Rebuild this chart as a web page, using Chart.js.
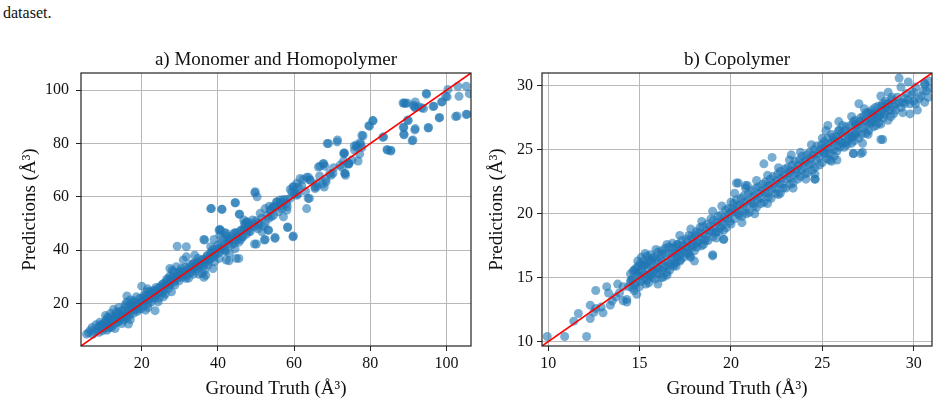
<!DOCTYPE html>
<html><head><meta charset="utf-8">
<script src="https://cdn.jsdelivr.net/npm/chart.js@4.4.1/dist/chart.umd.min.js"></script>
<style>
html,body{margin:0;padding:0;background:#fff;}
body{width:940px;height:408px;position:relative;overflow:hidden;}
#caption{position:absolute;left:3px;top:5px;font-family:'Liberation Serif',serif;font-size:16px;line-height:16px;color:#111;}
#c1{position:absolute;left:0;top:0;}
#c2{position:absolute;left:480px;top:0;}
</style></head><body>
<div id="caption">dataset.</div>
<canvas id="c1" width="480" height="408"></canvas>
<canvas id="c2" width="460" height="408"></canvas>
<script>
// ---------- data ----------
const panelTitles = ['a) Monomer and Homopolymer', 'b) Copolymer'];
const xLabel = 'Ground Truth (Å³)';
const yLabel = 'Predictions (Å³)';
const monomerRange = [4.05, 106.45];
const copolymerRange = [9.66, 31.0];
const monomerTicks = [20, 40, 60, 80, 100];
const copolymerTicks = [10, 15, 20, 25, 30];

// [ground truth, prediction]
const monomerPoints = [
[5.5,8.5],[7,11],[8.3,10],[9.3,11.5],[10,12.5],[10.7,13.8],[11.3,14.4],[12.2,15],[12.6,17.8],[13.7,16.3],
[14.3,16.9],[15,17.5],[16.1,22.8],[13.5,12.8],[14.8,12.5],[16.5,12.3],[15.2,13.8],[11.7,11.3],[13,10.6],[10.9,10],
[17.4,18.5],[18.7,20],[17.8,16.3],[17,21.3],[16.1,20.6],[20,26.5],[21.3,24.4],[22.2,23.1],[23,25],[23.5,17.3],
[21.7,20],[20.9,21.3],[24.8,26.3],[25.7,27.5],[26.5,29],[27.4,30.3],[28.3,31.9],[27,25.6],[27.8,24.4],[28.7,26.9],
[27.4,33.1],[29.1,33.8],[30.4,33.1],[29.3,41.5],[31.7,41.3],[30,30.6],[31.6,29.4],[32.6,31.3],[33.5,35],[34.8,36.9],
[33.9,38.1],[36.3,29.8],[37,37.5],[38,38.8],[38.7,40.3],[39.1,35.6],[40.4,36.9],[40.3,47.5],[41.3,44.4],[42.2,46.3],
[43,43.8],[43.5,41.9],[44.8,36.9],[42.2,36.3],[43,38.8],[38.7,33.1],[36.5,32.5],[37.4,34.4],[47,50],[49.1,51.3],
[49.6,42.3],[46.3,45],[35.2,34.4],[34.3,32.8],[30.9,36.3],[31.7,37.5],[25.7,22.5],[24.3,20.6],[23.5,21.9],
[6,9],[7.5,9.5],[8,12],[8.8,9.2],[9,13],[9.5,10.5],[10.2,11],[10.5,15.5],[11,12],[11.5,13],
[11.8,16.2],[12,11],[12.4,13.5],[12.8,14.8],[13.2,15.5],[13.8,14],[14,18.5],[14.5,15.2],[15,14.8],[15.5,16],
[15.8,18.8],[16,14.5],[16.4,17],[16.8,15.5],[17.2,19.5],[17.5,17.5],[18,21],[18.3,18],[18.8,17],[19.2,19.5],
[19.5,22],[19.8,18],[20.3,20.5],[20.6,23],[21,22],[21,17.5],[21.5,25.5],[21.8,21.5],[22.5,20.5],[22.8,24],
[23.2,22.8],[23.8,26],[24,23.5],[24.5,22],[25,25],[25.3,27],[25.5,24],[26,26.5],[26.2,23.5],[26.8,27.5],
[27,29.5],[27.5,27],[28,29],[28,32.5],[28.5,28],[29,30],[29.5,31.5],[29.8,28.5],[30.2,32],[30.6,29.8],
[31,31],[31.4,33.5],[32,32.5],[32.3,29.5],[32.8,34.5],[33.2,32],[33.8,33.5],[34.5,35.5],[35,31],[35.5,36],
[36,34],[36.8,36.5],[37.5,35.8],[38.2,37],[39.5,38.5],[40,42],[40.8,40],[41.5,41],[42,39.5],[42.8,42.5],
[44,44],[44.5,40.5],[45,46.5],[45.5,43],[46,47.5],[46.8,48],[47.5,46],[48,49.5],[48.5,47],
[6.5,10],[7.2,8.5],[8.5,11],[9.2,12],[9.8,9.8],[10.4,12.8],[11,14.8],[11.2,10.8],[11.9,13.5],[12.5,12],
[13,14],[13.4,16.8],[14,13.3],[14.6,16],[15.3,15],[15.6,19.5],[16.2,16],[16.6,18.5],[17,14],[17.6,20.5],
[18.2,19.2],[18.6,22.5],[19,17.8],[19.6,20.5],[20.2,22],[20.5,19],[21.2,23],[21.6,18.5],[22,24.5],[22.4,22],
[23,23.5],[23.6,24.8],[24.2,25.5],[24.6,24],[25.2,26],[25.8,25],[26.4,28],[27,27],[27.6,28.5],[28.2,30],
[28.8,29],[29.4,29.5],[30,31.5],[30.6,31],[31.2,32],[31.8,30.5],[32.4,33.5],[33,33],[33.6,31],[34.2,34.5],
[34.8,34],[35.4,35],[36,36.5],[36.6,35],[37.2,38],[37.8,36.5],[38.4,39.5],[39,37.5],[39.6,40.5],[40.2,39],
[41,42.5],[41.8,40],[42.5,44],[43.5,45],[44.2,42.5],[45.2,45],[46,44],[47,47.5],[48,48.2],[49,49],
[50,51],[50.5,48],[51.5,52],[52,49],[53,53],[54,52.5],[55,56],[56,56.8],[57,58],[58,59],
[59,59.5],[60,61],[61,61],[62,64],[63,62],
[68.7,80],[71.3,80.6],[73,76.3],[76.3,79.4],[75.9,77.5],[74.4,72.5],[73,73.5],[73.3,68.8],[67.7,72.5],[68.1,71.5],
[66.8,71.5],[69.4,68.8],[68.3,66.5],[67.5,64.8],[65.5,63.1],[64.2,66.3],[63.3,67.3],[61.6,66.9],[60.7,65],[59.8,63.8],
[59.4,61.9],[59,62.8],[63.7,59.4],[63.3,55.6],[65.9,63.8],[49.8,61.9],[50.3,60],[44.6,57.8],[38.3,55.6],[41.1,55.3],
[45.7,53.5],[46.8,51.3],[47.7,50.6],[49,50],[49.8,48.8],[50.7,49.4],[53.7,55],[54.6,56.3],[55.5,58.1],[56.3,58.8],
[57.2,59],[58.1,57.5],[53.3,47.5],[55,44.8],[52.2,43.8],[50.1,42.3],[58.3,48.5],[59.7,45],[45.5,36.9],[42.9,36],
[40.7,47.5],[42.3,45.3],[43.1,43.8],[41.6,41.9],[40.3,40.6],[36.5,43.8],[38.1,41.3],[39,38.8],[44.2,46.3],[45,43.8],
[46.3,47.5],[47.2,49.4],[48.1,46.9],[51.6,46.9],[52.4,50],[53.3,51.9],[54.6,53.1],[55.9,54.4],[56.8,55.6],[57.2,52.5],
[58.1,55],[35.9,31.3],[36.8,30.6],[34.6,33.8],[33.7,35],
[94.7,98.8],[96.7,94],[98.9,95.6],[100.2,97.5],[98.2,89.8],[102.8,90.3],[105.4,91],[95.3,86],[91.8,85.6],[91.2,81.3],
[88.8,83.5],[88.8,86],[89.2,95],[88.6,95.2],[91.8,95.6],[91.6,93.8],[94,93.1],[89.8,88.8],[83.5,82.5],[84.4,77.8],
[85.4,77.5],[79.8,86.5],[80.7,88.5],[77.8,83.1],[77.4,79.7],[75.2,73.8],[73.2,76.5],[73.4,68.8],[69,80],[71.4,81.3],
[74.3,72.5],[72.1,71.9],[70.2,68.8],[67.7,72.3],[66.4,71.2],[66.7,67.8],[63.8,67.3],[64.2,66.3],[68.4,65.6],[67.9,63.7],
[65.5,63.7],[66,65],[62.4,66.5],[61.1,63.7],[59.8,63.7],[60.3,61.9],[60.7,60.6],[64,59.4],[57,56.9],[58.2,56.3],
[56.3,57.5],[55.4,58.1],[54.5,56.3],[53.9,55],[53.5,56.5],[52.4,55.6],[51.1,53.8],[49.7,61.5],[44.5,57.8],[45.6,53.5],
[47.6,50.6],[50.6,50.2],[53.2,47.5],[55,44.4],[58.3,48.7],[59.8,45.3],[38.1,55.6],[41,55.3],[40.5,47.8],[41.8,46.5],
[40.5,45.6],[39,44],[36.3,44],[44.5,46.5],[46.6,45],[52.4,44],
[100.4,100.3],[103,101.5],[105.2,101.5],[106,98.7],[103.3,97.7],[99.8,97.7],[98.7,95.6],[94.8,98.5],[96.5,93.9],[92.6,93.9],
[88.9,95.2],[89.7,95.2],[91.3,94.4],[91.8,93.4],[93.5,93.4],[102.4,90.1],[105.2,90.9],[98.1,89.6],[95.2,85.8],[91.7,85.1],
[91,81],[88.7,86.1],[88.9,83.3],[90,88.6],[80.7,88.6],[79.6,86.7],[78.1,82.9],[83.3,82.3],[84.5,77.5],[85.4,77.2],
[77.4,80.4],[76.5,78.7],[75.8,79.1],[77.8,78.5],[73.2,76.2],[77.2,76],[76.8,73.4],[74.3,72.2],[72.6,71.1],[70.4,70.9],
[73.5,68.1],[69.7,68.1]
];

const copolymerPoints = [
[9.95,10.4],[10.9,10.4],[12.1,10.4],[11.4,11.6],[11.65,12.2],[12.3,11.8],[12.5,12.3],[12.3,12.85],[12.6,12.6],[12.9,12.7],
[12.6,14],[13.2,14.3],[13.3,13.8],[13,12.25],[13.4,12.85],[13.5,13.2],[13.7,13.5],[13.9,13.8],[14.1,13.2],[14.3,13.1],
[14.3,13.3],[13.8,14.5],[14.1,14.3],[14.4,14.3],[14.5,14.7],[14.7,14],[14.85,13.7],[15,15.1],[15.04,16.1],[15.2,16.3],
[15.1,16.6],[15.4,14.8],[15.6,15.3],[15.8,15.6],[15.95,15.8],[16,14.5],[16.3,15.05],[16.5,15.4],[16.2,17.1],[16.6,17.4],
[16.8,16.9],[17.05,17.6],[17.3,17.25],[17.6,17.8],[17.9,17.4],[18.15,17.7],[16.9,16.1],[17.2,16.3],[17.8,16.6],[18,16.3],
[14.8,15.7],[14.85,15.3],[14.6,14.9],[15.4,16.7],[15.7,16.5],
[14.5,15.3],[14.6,14.2],[14.7,15.6],[14.8,14.6],[14.9,15.9],[15.0,14.3],[15.1,15.5],[15.2,14.9],[15.3,16.0],[15.4,15.2],
[15.5,16.4],[15.5,14.6],[15.6,15.9],[15.7,15.0],[15.8,16.6],[15.9,15.4],[16.0,16.2],[16.1,15.3],[16.2,16.8],[16.3,15.8],
[16.4,16.3],[16.5,15.2],[16.6,16.9],[16.7,16.0],[16.8,17.3],[16.9,16.5],[17.0,17.0],[17.0,15.9],[17.1,17.6],[17.2,16.8],
[17.3,17.9],[17.4,16.6],[17.5,17.4],[17.6,16.9],[17.7,18.3],[17.8,17.5],[17.9,18.0],[18.0,17.1],[18.1,18.6],[18.2,17.8],
[18.3,18.9],[18.4,17.5],[18.5,18.4],[18.6,17.9],[18.7,19.2],[18.8,18.5],[18.9,19.6],[19.0,18.2],[19.0,16.8],[19.1,19.0],
[19.2,18.6],[19.3,19.8],[19.4,18.9],[19.5,19.4],[19.6,18.7],[19.7,20.3],[19.8,19.6],[19.9,20.0],
[15.3,16.9],[15.9,17.2],[16.5,17.6],[17.2,18.3],[17.8,18.8],[18.4,19.4],[19.0,20.2],[19.5,20.6],[16.2,15.0],[17.0,16.2],
[17.7,16.9],[18.5,17.6],[19.2,18.1],[19.6,18.0],
[14.55,14.8],[14.65,15.5],[14.75,14.4],[14.95,15.4],[15.05,14.7],[15.15,15.9],[15.25,15.3],[15.35,14.5],[15.45,15.7],[15.55,15.1],
[15.65,16.3],[15.75,15.5],[15.85,14.9],[15.95,16.4],[16.05,15.7],[16.15,16.5],[16.25,15.6],[16.35,16.9],[16.45,15.9],[16.55,16.2],
[16.65,15.6],[16.75,16.6],[16.85,15.9],[16.95,17.4],[17.05,16.6],[17.15,17.1],[17.25,16.4],[17.35,17.5],[17.45,17.0],[17.55,18.0],
[17.65,17.3],[17.75,16.7],[17.85,18.2],[17.95,17.6],[18.05,18.3],[18.15,17.4],[18.25,18.5],[18.35,18.1],[18.45,19.0],[18.55,18.0],
[18.65,18.7],[18.75,17.9],[18.85,19.0],[18.95,18.6],[19.05,19.5],[19.15,18.5],[19.25,19.3],[19.35,18.6],[19.45,19.9],[19.55,19.1],
[19.65,19.7],[19.75,18.9],[19.85,20.4],[19.95,19.4],
[15.2,16.0],[15.6,16.8],[16.0,17.0],[16.4,17.3],[16.8,17.7],[14.9,16.3],[15.5,16.2],
[20.0,19.2],[20.0,20.9],[20.1,20.4],[20.2,19.6],[20.3,21.1],[20.4,20.0],[20.5,20.7],[20.6,19.8],[20.7,21.4],[20.8,20.3],
[20.9,21.0],[21.0,20.1],[21.1,21.8],[21.2,20.8],[21.3,21.4],[21.4,20.5],[21.5,22.1],[21.6,21.2],[21.7,21.8],[21.8,20.9],
[21.9,22.5],[22.0,21.6],[22.1,22.2],[22.2,21.2],[22.3,22.9],[22.4,22.0],[22.5,22.6],[22.6,21.5],[22.7,23.3],[22.8,22.3],
[22.9,23.0],[23.0,22.0],[23.1,23.6],[23.2,22.8],[23.3,23.4],[23.4,22.4],[23.5,24.1],[23.6,23.2],[23.7,23.8],[23.8,22.9],
[23.9,24.5],[24.0,23.6],[24.1,24.2],[24.2,23.2],[24.3,24.8],[24.4,23.9],[24.5,24.6],[24.6,23.6],[24.7,25.3],[24.8,24.4],
[24.9,25.0],[25.0,24.0],
[20.2,21.6],[20.8,22.0],[21.4,22.6],[22.0,23.0],[22.6,23.6],[23.2,24.2],[23.8,24.8],[24.4,25.4],[25.0,25.9],[20.6,19.3],
[21.3,20.0],[22.0,20.8],[22.7,21.6],[23.4,22.0],[24.1,22.7],[24.6,23.1],
[20.05,20.1],[20.15,20.8],[20.25,20.2],[20.35,20.6],[20.45,19.9],[20.55,21.2],[20.65,20.5],[20.75,20.9],[20.85,20.0],[20.95,21.6],
[21.05,20.8],[21.15,21.3],[21.25,20.6],[21.35,22.0],[21.45,21.1],[21.55,21.6],[21.65,20.8],[21.75,22.3],[21.85,21.6],[21.95,22.1],
[22.05,21.3],[22.15,22.7],[22.25,21.9],[22.35,22.4],[22.45,21.6],[22.55,23.1],[22.65,22.3],[22.75,22.8],[22.85,22.0],[22.95,23.5],
[23.05,22.7],[23.15,23.2],[23.25,22.3],[23.35,23.8],[23.45,23.0],[23.55,23.5],[23.65,22.7],[23.75,24.2],[23.85,23.4],[23.95,24.0],
[24.05,23.1],[24.15,24.6],[24.25,23.8],[24.35,24.3],[24.45,23.4],[24.55,25.0],[24.65,24.2],[24.75,24.7],[24.85,23.8],[24.95,25.4],
[20.3,22.4],[20.8,22.2],[19.6,18.0],[19.0,16.7],[20.4,22.4],[22.25,24.4],[23.3,24.6],[24.6,22.7],[21.8,23.9],[20.9,22.2],
[25.1,25.6],[25.2,24.7],[25.3,25.9],[25.4,25.1],[25.5,26.2],[25.6,25.0],[25.7,25.7],[25.8,24.9],[25.9,26.5],[26.0,25.6],
[26.1,26.1],[26.2,25.2],[26.3,26.8],[26.4,25.8],[26.5,26.4],[26.6,25.5],[26.7,27.2],[26.8,26.3],[26.9,26.9],[27.0,25.9],
[27.1,27.5],[27.2,26.7],[27.3,27.3],[27.4,26.3],[27.5,27.9],[27.6,27.1],[27.7,27.7],[27.8,26.8],[27.9,28.3],[28.0,27.5],
[28.1,28.0],[28.2,27.0],[28.3,28.6],[28.4,27.8],[28.5,28.3],[28.6,27.3],[28.8,28.9],[29.0,28.1],[29.2,28.7],[29.4,27.9],
[29.6,29.4],[29.8,28.6],[30.0,29.5],[30.3,29.0],[30.6,30.2],[30.9,29.8],
[25.05,24.9],[25.15,25.2],[25.25,24.3],[25.35,25.5],[25.45,24.7],[25.55,25.6],[25.65,24.5],[25.75,26.0],[25.85,25.3],[25.95,25.2],
[26.05,26.3],[26.15,25.5],[26.25,26.5],[26.35,25.4],[26.45,26.1],[26.55,26.9],[26.65,26.0],[26.75,25.7],[26.85,27.0],[26.95,26.4],
[27.05,27.2],[27.15,26.2],[27.25,27.6],[27.35,26.8],[27.45,27.2],[27.55,26.5],[27.65,27.9],[27.75,27.3],[27.85,27.5],[27.95,26.9],
[28.05,28.4],[28.15,27.7],[28.25,28.4],[28.35,27.5],[28.45,28.8],[28.55,28.0],[28.65,28.6],[28.75,27.6],[28.9,28.4],[29.1,29.1],
[29.3,28.3],[29.5,29.0],[29.7,28.9],[29.9,29.3],[30.1,28.6],[30.5,29.6],[30.8,29.1],
[29.2,30.6],[29.7,30.3],[29.3,29.9],[30.1,29.9],[30.6,30.1],[30.8,30.4],[30.7,29.6],[30.4,29.2],[30,28.8],[30.6,28.7],
[30.2,28.1],[29.8,27.8],[29.4,28.7],[29.5,28.6],[29,28.6],[28.8,29.1],[28.6,29.5],[28.2,29.2],[28.5,28.6],[28.3,28.1],
[28.7,28.1],[28.9,27.8],[27,28.6],[27.3,28.2],[27.4,27.9],[27.7,28.1],[27.8,27.8],[28.1,27.6],[27.7,27.1],[26.6,27.6],
[26.8,27.3],[26.8,26.9],[28.1,27.1],[28.2,25.8],[27.5,26.2],[27.2,25.5],[25.9,27.2],[26.1,26.9],[25.9,26.5],[25.3,26.9],
[25.2,26.5],[25.6,26],[25.9,25.8],[26.3,25.6],[26.6,26],[26.8,26.2],[26.7,24.7],[27.1,24.7],[25.4,24.2],[25.8,24.2],
[25.1,24.7],[28.3,25.8],[27.2,24.8],[26.7,24.7],[24.6,22.7],[25.5,24.1]
];

// ---------- drawing ----------
Chart.defaults.font.family = "'Liberation Serif', 'Times New Roman', serif";
Chart.defaults.color = '#111';

const framePlugin = {
  id: 'frame',
  afterDatasetsDraw(chart) {
    const {ctx, chartArea: a} = chart;
    ctx.save();
    ctx.strokeStyle = '#222';
    ctx.lineWidth = 1.2;
    ctx.strokeRect(a.left, a.top, a.right - a.left, a.bottom - a.top);
    ctx.restore();
  }
};

function makeChart(canvasId, title, points, range, ticks, opts) {
  const scaleBase = (isX) => ({
    type: 'linear',
    min: range[0],
    max: range[1],
    afterBuildTicks: s => { s.ticks = ticks.map(v => ({value: v})); },
    grid: {color: '#b8b8b8', lineWidth: 1, drawTicks: true, tickLength: 5, tickColor: '#222', tickWidth: 1},
    border: {display: false},
    ticks: {
      color: '#111', font: {size: 16}, maxRotation: 0, autoSkip: false,
      padding: isX ? 3 : opts.yTickPad,
      callback: v => String(v)
    }
  });
  const xScale = Object.assign(scaleBase(true), {
    afterFit: s => { s.height = 62; },
    title: {display: true, text: xLabel, font: {size: 19}, color: '#111', padding: {top: 0, bottom: 7.6}}
  });
  const yScale = Object.assign(scaleBase(false), {
    afterFit: s => { s.width = opts.yWidth; },
    title: {display: true, text: yLabel, font: {size: 19}, color: '#111', padding: {top: opts.yTitlePad, bottom: 0}}
  });
  return new Chart(document.getElementById(canvasId), {
    type: 'scatter',
    data: {
      datasets: [
        {
          type: 'line',
          data: range.map(v => ({x: v, y: v})),
          borderColor: '#ff0000',
          borderWidth: 1.6,
          pointRadius: 0,
          fill: false,
          order: 0
        },
        {
          type: 'scatter',
          data: points.map(p => ({x: p[0], y: p[1]})),
          backgroundColor: 'rgba(31,119,180,0.6)',
          borderWidth: 0,
          pointRadius: 4.5,
          order: 1
        }
      ]
    },
    options: {
      responsive: false,
      animation: false,
      layout: {padding: {left: 0, right: opts.padRight, top: 0, bottom: 0}},
      plugins: {
        legend: {display: false},
        tooltip: {enabled: false},
        title: {
          display: true, text: title, fullSize: false,
          font: {size: 19, weight: 'normal'}, color: '#111',
          padding: {top: 48.6, bottom: 1.6}
        }
      },
      scales: {x: xScale, y: yScale}
    },
    plugins: [framePlugin]
  });
}

makeChart('c1', panelTitles[0], monomerPoints, monomerRange, monomerTicks,
  {yWidth: 81, padRight: 9, yTitlePad: 18.6, yTickPad: 7});
makeChart('c2', panelTitles[1], copolymerPoints, copolymerRange, copolymerTicks,
  {yWidth: 62, padRight: 8, yTitlePad: 5.6, yTickPad: 4});
</script>
</body></html>
